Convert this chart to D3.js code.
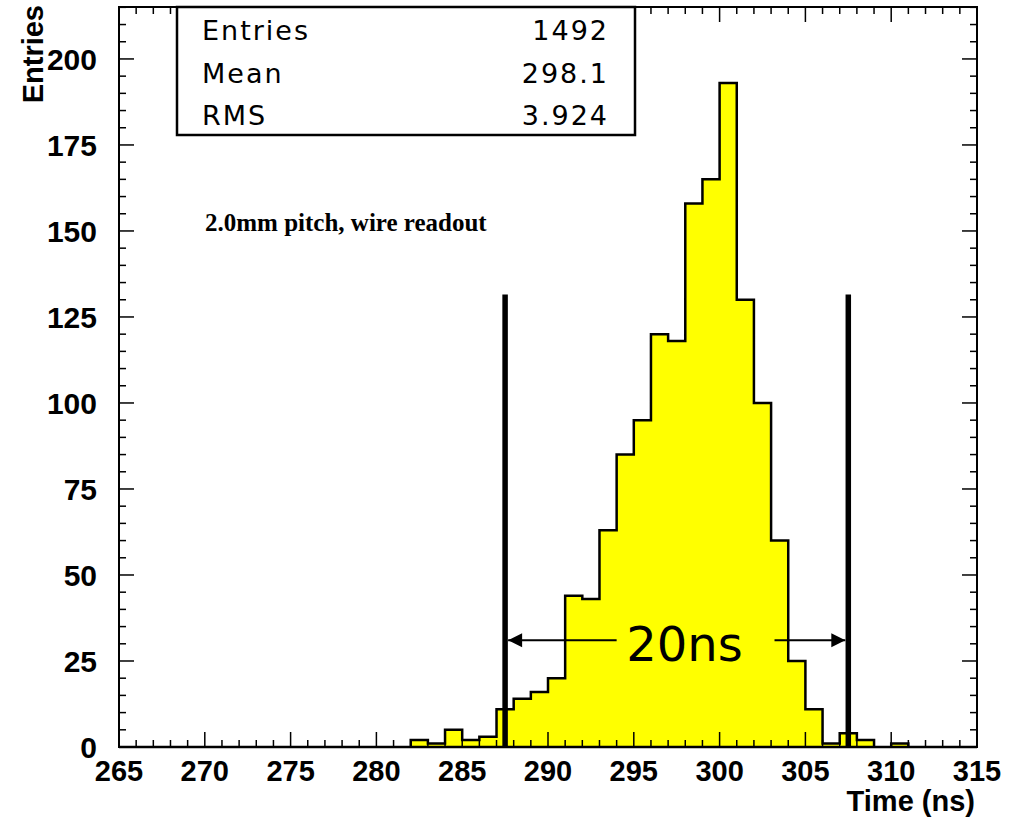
<html>
<head>
<title>Time distribution</title>
<script src="https://cdn.jsdelivr.net/npm/d3@7"></script>
<style>
    body { margin: 0; background: #fff; }
    .tick-label { font-family: "Liberation Sans", Arial, sans-serif; font-weight: bold; font-size: 30px; }
    .stats { font-family: "DejaVu Sans", sans-serif; font-size: 27px; letter-spacing: 2px; }
</style>
</head>
<body>
<script>
    // histogram: 1 ns bins from 265 to 315
    var binStart = 265
    var binWidth = 1
    var counts = [
        0, 0, 0, 0, 0, 0, 0, 0, 0, 0,      // 265-274
        0, 0, 0, 0, 0, 0, 0, 2, 1, 5,      // 275-284
        2, 3, 11, 14, 16, 20, 44, 43, 63, 85, // 285-294
        95, 120, 118, 158, 165, 193, 130, 100, 60, 25, // 295-304
        11, 1, 4, 2, 0, 1, 0, 0, 0, 0      // 305-314
    ]
    var xTicks = [265, 270, 275, 280, 285, 290, 295, 300, 305, 310, 315]
    var yTicks = [0, 25, 50, 75, 100, 125, 150, 175, 200]
    var statNames = ["Entries", "Mean", "RMS"]
    var statValues = ["1492", "298.1", "3.924"]
    var windowLines = [287.5, 307.5]
    var windowTop = 131.5
    var arrowLevel = 31

    var width = 1018
    var height = 817
    var fLeft = 119, fRight = 977, fTop = 7, fBottom = 747

    var svg = d3.select("body").append("svg")
        .attr("width", width)
        .attr("height", height)

    var x = d3.scaleLinear().domain([265, 315]).range([fLeft, fRight])
    var y = d3.scaleLinear().domain([0, 215.1]).range([fBottom, fTop])

    // step outline of the histogram
    var pts = counts.map(function (c, i) { return [binStart + i * binWidth, c] })
    pts.push([binStart + counts.length * binWidth, 0])
    var area = d3.area()
        .curve(d3.curveStepAfter)
        .x(function (d) { return x(d[0]) })
        .y0(y(0))
        .y1(function (d) { return y(d[1]) })
    svg.append("path")
        .attr("d", area(pts))
        .attr("fill", "#ffff00")
        .attr("stroke", "#000")
        .attr("stroke-width", 2.5)
        .attr("stroke-linejoin", "miter")

    // frame
    svg.append("rect")
        .attr("x", fLeft).attr("y", fTop)
        .attr("width", fRight - fLeft).attr("height", fBottom - fTop)
        .attr("fill", "none")
        .attr("stroke", "#000")
        .attr("stroke-width", 2)

    // ticks on all four sides
    var ticks = svg.append("g").attr("stroke", "#000").attr("stroke-width", 1.5)
    for (var t = 265; t <= 315; t++) {
        var len = (t % 5 == 0) ? 15 : 7
        ticks.append("line").attr("x1", x(t)).attr("x2", x(t)).attr("y1", fBottom).attr("y2", fBottom - len)
        ticks.append("line").attr("x1", x(t)).attr("x2", x(t)).attr("y1", fTop).attr("y2", fTop + len)
    }
    for (var v = 0; v <= 215; v += 5) {
        var len2 = (v % 25 == 0) ? 15 : 7
        ticks.append("line").attr("x1", fLeft).attr("x2", fLeft + len2).attr("y1", y(v)).attr("y2", y(v))
        ticks.append("line").attr("x1", fRight).attr("x2", fRight - len2).attr("y1", y(v)).attr("y2", y(v))
    }

    // tick labels
    svg.selectAll(".xl").data(xTicks).enter().append("text")
        .attr("class", "tick-label")
        .style("font-size", "29px")
        .attr("x", function (d) { return x(d) })
        .attr("y", 781)
        .attr("text-anchor", "middle")
        .text(function (d) { return d })

    svg.selectAll(".yl").data(yTicks).enter().append("text")
        .attr("class", "tick-label")
        .attr("x", 97)
        .attr("y", function (d) { return y(d) + 11 })
        .attr("text-anchor", "end")
        .text(function (d) { return d })

    // axis titles
    svg.append("text")
        .attr("class", "tick-label")
        .style("font-size", "29px")
        .attr("transform", "translate(43,5) rotate(-90)")
        .attr("text-anchor", "end")
        .text("Entries")

    svg.append("text")
        .attr("class", "tick-label")
        .style("font-size", "29px")
        .attr("x", 975)
        .attr("y", 811)
        .attr("text-anchor", "end")
        .text("Time (ns)")

    // stats box
    svg.append("rect")
        .attr("x", 177).attr("y", fTop)
        .attr("width", 635 - 177).attr("height", 135 - fTop)
        .attr("fill", "#fff")
        .attr("stroke", "#000")
        .attr("stroke-width", 2.5)
    statNames.forEach(function (n, i) {
        svg.append("text").attr("class", "stats")
            .attr("x", 202).attr("y", 40 + i * 42.5)
            .text(n)
        svg.append("text").attr("class", "stats")
            .attr("x", 609).attr("y", 40 + i * 42.5)
            .attr("text-anchor", "end")
            .text(statValues[i])
    })

    // label
    svg.append("text")
        .attr("x", 205).attr("y", 231)
        .attr("font-family", "'Liberation Serif', 'Times New Roman', serif")
        .attr("font-weight", "bold")
        .attr("font-size", "25px")
        .text("2.0mm pitch, wire readout")

    // 20 ns window
    windowLines.forEach(function (w) {
        svg.append("line")
            .attr("x1", x(w)).attr("x2", x(w))
            .attr("y1", y(windowTop)).attr("y2", y(0))
            .attr("stroke", "#000")
            .attr("stroke-width", 5.5)
    })

    var ay = y(arrowLevel)
    function arrow(x0, x1) {
        // line from x0 to x1 with head at x1
        svg.append("line")
            .attr("x1", x0).attr("x2", x1)
            .attr("y1", ay).attr("y2", ay)
            .attr("stroke", "#000").attr("stroke-width", 2)
        var dir = x1 > x0 ? -1 : 1
        svg.append("path")
            .attr("d", "M" + x1 + "," + ay + "L" + (x1 + dir * 14) + "," + (ay - 7) +
                "L" + (x1 + dir * 14) + "," + (ay + 7) + "Z")
            .attr("fill", "#000")
    }
    arrow(x(294.0), x(windowLines[0]) + 3)
    arrow(x(303.2), x(windowLines[1]) - 3)

    svg.append("text")
        .attr("x", x(297.95)).attr("y", 661)
        .attr("text-anchor", "middle")
        .attr("font-family", "'Comic Sans MS', 'DejaVu Sans', sans-serif")
        .attr("font-size", "48px")
        .text("20ns")
</script>
</body>
</html>
